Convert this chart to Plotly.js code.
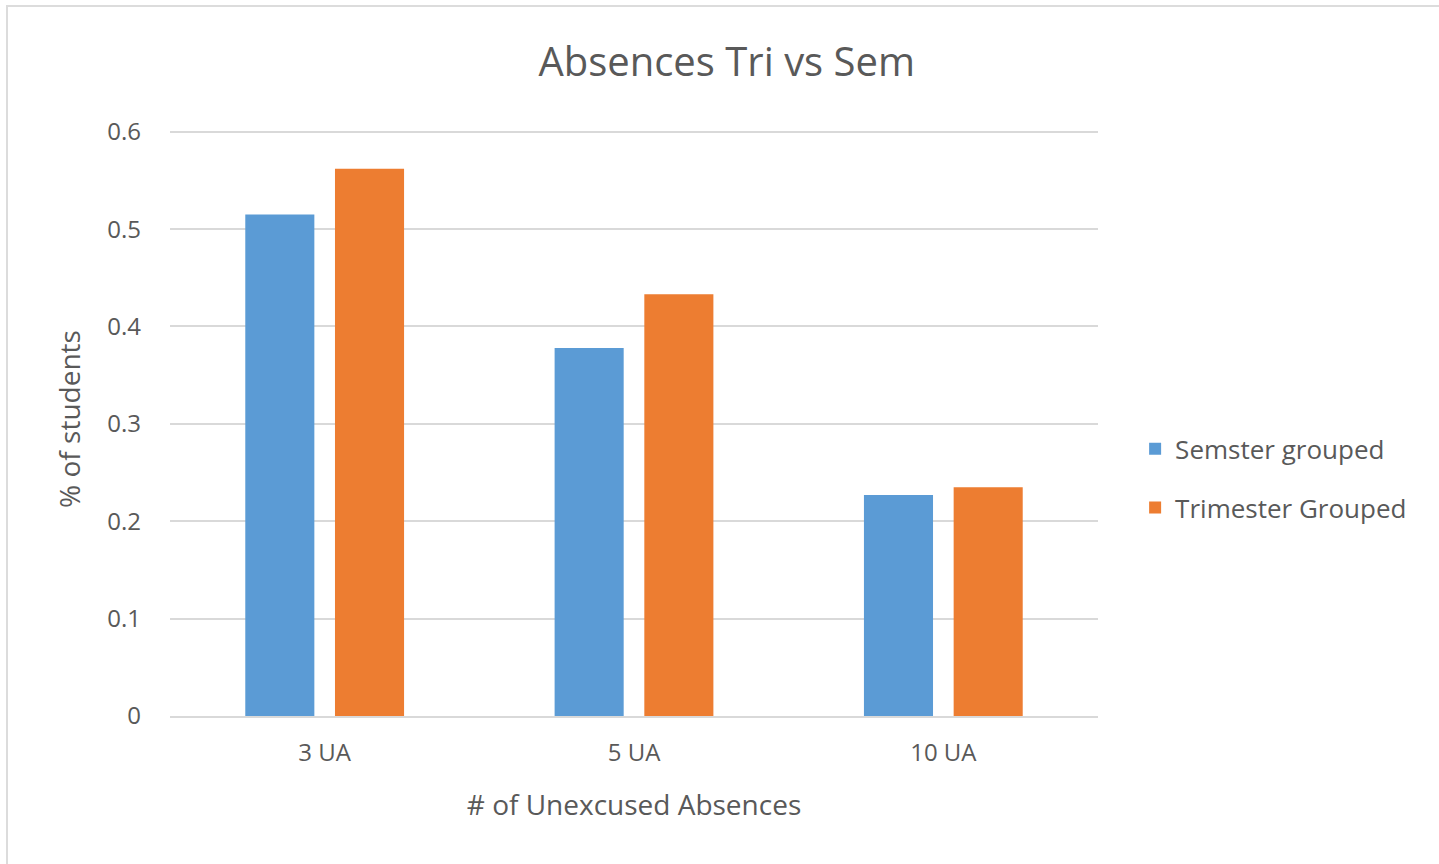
<!DOCTYPE html>
<html><head><meta charset="utf-8">
<script src="https://cdn.plot.ly/plotly-3.0.1.min.js"></script>
<style>html,body{margin:0;padding:0;background:#fff;overflow:hidden}
#frame{position:absolute;left:6px;top:5px;width:1460px;height:900px;border:2px solid #dcdcdc;pointer-events:none}
</style></head>
<body><div id="chart" style="width:1439px;height:864px"></div><div id="frame"></div>
<script>
const categories = ['3 UA', '5 UA', '10 UA'];
const semesterGrouped = [0.515, 0.378, 0.227];
const trimesterGrouped = [0.562, 0.433, 0.235];
const seriesNames = ['Semster grouped', 'Trimester Grouped'];
const tickVals = [0, 0.1, 0.2, 0.3, 0.4, 0.5, 0.6];
const tickText = ['0', '0.1', '0.2', '0.3', '0.4', '0.5', '0.6'];

const font = '"Open Sans", Lato, sans-serif';
const txt = '#595959';
const data = [
  {type:'bar', x:categories, y:semesterGrouped, name:seriesNames[0], marker:{color:'#5B9BD5'}, legendgroup:'a'},
  {type:'bar', x:categories, y:trimesterGrouped, name:seriesNames[1], marker:{color:'#ED7D31'}, legendgroup:'b'}
];
const layout = {
  width:1439, height:864,
  margin:{l:170, r:341, t:122, b:148},
  paper_bgcolor:'#fff', plot_bgcolor:'#fff',
  font:{family:font, color:txt},
  title:{text:'Absences Tri vs Sem', font:{family:font, size:40, color:txt}, x:0.505, xanchor:'center', y:0.928, yanchor:'middle'},
  barmode:'group', bargap:0.42, bargroupgap:0.23,
  xaxis:{type:'category', showgrid:false, showline:true, linecolor:'#d9d9d9', linewidth:2, ticks:'', ticklabelstandoff:14,
    tickfont:{size:24, color:txt}, title:{text:'# of Unexcused Absences', font:{size:28, color:txt}, standoff:29}},
  yaxis:{range:[0,0.61], tickvals:tickVals, ticktext:tickText, showgrid:true, gridcolor:'#d9d9d9', gridwidth:2, zeroline:false, showline:false, ticks:'',
    ticklabelstandoff:28, tickfont:{size:24, color:txt}, title:{text:'% of students', font:{size:28, color:txt}, standoff:18}},
  showlegend:true,
  legend:{x:1.04, xanchor:'left', y:0.4, yanchor:'middle', font:{size:26, color:txt}, tracegroupgap:22, itemwidth:30, traceorder:'grouped'}
};
Plotly.newPlot('chart', data, layout, {displayModeBar:false, staticPlot:true});
</script></body></html>
